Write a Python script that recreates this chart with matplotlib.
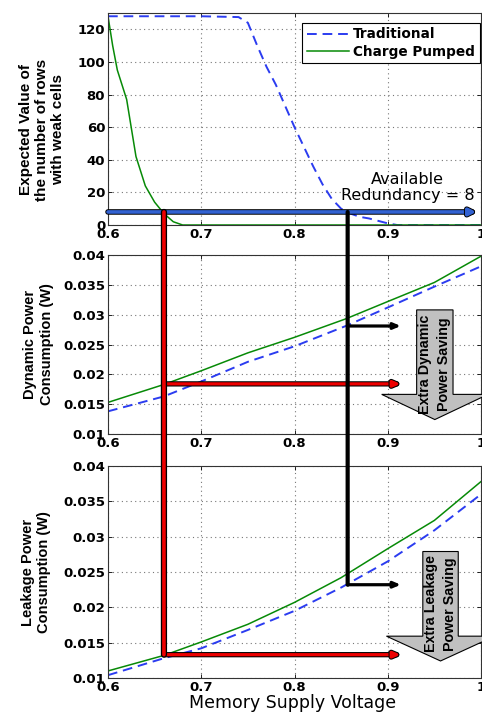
import numpy as np
import matplotlib
matplotlib.use('Agg')
import matplotlib.pyplot as plt
import matplotlib.patheffects as pe
from matplotlib.patches import ConnectionPatch, Polygon
from matplotlib.ticker import FuncFormatter

plt.rcParams['font.family'] = ['DejaVu Sans']

# ---- data ----
v_rows_trad = [0.60, 0.70, 0.74, 0.75, 0.76, 0.77, 0.78, 0.79, 0.80, 0.81, 0.82,
               0.83, 0.84, 0.85, 0.86, 0.87, 0.88, 0.89, 0.90, 0.91, 1.00]
rows_trad = [128, 128, 127.5, 124, 110, 97, 86, 73, 60, 48, 36,
             25, 16, 10, 7, 5, 4, 2.5, 1, 0, 0]
v_rows_cp = [0.60, 0.605, 0.61, 0.62, 0.63, 0.64, 0.65, 0.66, 0.67, 0.68, 1.00]
rows_cp = [128, 110, 95, 77, 42, 24, 14, 7, 2, 0, 0]

v_dyn = [0.60, 0.66, 0.70, 0.75, 0.80, 0.855, 0.90, 0.95, 1.00]
dyn_trad = [0.0138, 0.0163, 0.0188, 0.0221, 0.0247, 0.0281, 0.0312, 0.0347, 0.0381]
dyn_cp = [0.0153, 0.0183, 0.0206, 0.0236, 0.0262, 0.0293, 0.0322, 0.0354, 0.0398]

v_leak = [0.60, 0.66, 0.70, 0.75, 0.80, 0.85, 0.90, 0.95, 1.00]
leak_trad = [0.0104, 0.0128, 0.0142, 0.0168, 0.0195, 0.0228, 0.0265, 0.0309, 0.0360]
leak_cp = [0.0110, 0.0132, 0.0151, 0.0176, 0.0207, 0.0242, 0.0283, 0.0323, 0.0378]

redundancy = 8
v_cp, v_trad = 0.66, 0.857          # voltages meeting the redundancy
dyn_at_cp, dyn_at_trad = 0.0184, 0.0281
leak_at_cp, leak_at_trad = 0.0133, 0.0232
v_arrow_end = 0.914

xticks = [0.6, 0.7, 0.8, 0.9, 1.0]

c_trad = '#2b3cf0'
c_cp = '#078a07'
narrow = ['Liberation Sans Narrow', 'Liberation Sans']

W, H = 482, 712
fig = plt.figure(figsize=(W / 100, H / 100), dpi=100)

def px_axes(top, bottom, left=108, right=481):
    return fig.add_axes([left / W, 1 - bottom / H, (right - left) / W, (bottom - top) / H])

ax1 = px_axes(13, 225)
ax2 = px_axes(255, 434)
ax3 = px_axes(466, 678)

fmt = FuncFormatter(lambda v, p: '%g' % v)

# top panel
ax1.plot(v_rows_trad, rows_trad, color=c_trad, ls=(0, (5, 3)), lw=1.4, label='Traditional')
ax1.plot(v_rows_cp, rows_cp, color=c_cp, lw=1.1, label='Charge Pumped')
ax1.set_ylim(0, 130)
ax1.set_yticks(np.arange(0, 121, 20))
leg = ax1.legend(loc='upper right', bbox_to_anchor=(0.997, 0.955), fancybox=False,
                 edgecolor='k', framealpha=1, handlelength=3.1, borderpad=0.35,
                 labelspacing=0.25, handletextpad=0.3, borderaxespad=0,
                 prop={'weight': 'bold', 'size': 9.8})
leg.get_frame().set_linewidth(0.8)
ax1.set_ylabel('Expected Value of\nthe number of rows\nwith weak cells',
               fontsize=11, fontweight='bold', va='center', linespacing=1.2,
               family=narrow)
ax1.yaxis.set_label_coords(-0.177, 0.45)

ax1.annotate('', xy=(0.995, redundancy), xytext=(0.6, redundancy),
             arrowprops=dict(arrowstyle='-|>,head_length=0.4,head_width=0.2',
                             color='#3262d2', lw=2.6, shrinkA=0, shrinkB=0,
                             path_effects=[pe.Stroke(linewidth=4, foreground='k'), pe.Normal()]),
             zorder=8)
ax1.text(0.921, 23, 'Available\nRedundancy = 8', ha='center', va='center',
         fontsize=11.5, linespacing=1.1, zorder=9)

# middle panel
ax2.plot(v_dyn, dyn_trad, color=c_trad, ls=(0, (5, 3)), lw=1.4)
ax2.plot(v_dyn, dyn_cp, color=c_cp, lw=1.1)
ax2.set_ylim(0.01, 0.04)
ax2.set_yticks(np.arange(0.01, 0.0401, 0.005))
ax2.set_ylabel('Dynamic Power\nConsumption (W)', fontsize=10.5, fontweight='bold',
               va='center', linespacing=1.25, family=narrow)
ax2.yaxis.set_label_coords(-0.186, 0.5)

# bottom panel
ax3.plot(v_leak, leak_trad, color=c_trad, ls=(0, (5, 3)), lw=1.4)
ax3.plot(v_leak, leak_cp, color=c_cp, lw=1.1)
ax3.set_ylim(0.01, 0.04)
ax3.set_yticks(np.arange(0.01, 0.0401, 0.005))
ax3.set_ylabel('Leakage Power\nConsumption (W)', fontsize=10.5, fontweight='bold',
               va='center', linespacing=1.25, family=narrow)
ax3.yaxis.set_label_coords(-0.193, 0.5)

for ax in (ax1, ax2, ax3):
    ax.set_xlim(0.6, 1.0)
    ax.set_xticks(xticks)
    ax.xaxis.set_major_formatter(fmt)
    ax.yaxis.set_major_formatter(fmt)
    ax.grid(True, color='#777777', linestyle=(0, (1, 3)), linewidth=0.8)
    ax.tick_params(direction='in', top=True, right=True, length=3, width=0.6,
                   labelsize=9.5, pad=2)
    for t in ax.get_xticklabels() + ax.get_yticklabels():
        t.set_fontweight('bold')
    for s in ax.spines.values():
        s.set_color('#333333')
        s.set_linewidth(0.8)

fig.text(293 / W, 1 - 703 / H, 'Memory Supply Voltage', ha='center', va='center', fontsize=12.5)

# long vertical guides running through the three panels
red_fx = [pe.Stroke(linewidth=4.5, foreground='k'), pe.Normal()]
con = ConnectionPatch(xyA=(v_cp, redundancy), coordsA=ax1.transData,
                      xyB=(v_cp, leak_at_cp), coordsB=ax3.transData,
                      color='#ee0000', lw=2.6, zorder=10)
con.set_path_effects(red_fx)
fig.add_artist(con)
con = ConnectionPatch(xyA=(v_trad, redundancy), coordsA=ax1.transData,
                      xyB=(v_trad, leak_at_trad), coordsB=ax3.transData,
                      color='k', lw=3, zorder=10)
fig.add_artist(con)

def h_arrow(ax, x0, y, color, fx):
    ax.annotate('', xy=(v_arrow_end, y), xytext=(x0, y),
                arrowprops=dict(arrowstyle='-|>,head_length=0.4,head_width=0.17',
                                color=color, lw=2.3, shrinkA=0, shrinkB=0,
                                path_effects=fx),
                zorder=9)

red_fx_thin = [pe.Stroke(linewidth=3.8, foreground='k'), pe.Normal()]
h_arrow(ax2, v_cp, dyn_at_cp, '#ee0000', red_fx_thin)
h_arrow(ax3, v_cp, leak_at_cp, '#ee0000', red_fx_thin)
h_arrow(ax2, v_trad, dyn_at_trad, 'k', None)
h_arrow(ax3, v_trad, leak_at_trad, 'k', None)

# grey block arrows
def block_arrow(ax, xc, half_shaft, half_head, top, neck, tip, label, ty):
    pts = [(xc - half_shaft, top), (xc + half_shaft, top), (xc + half_shaft, neck),
           (xc + half_head, neck), (xc, tip), (xc - half_head, neck),
           (xc - half_shaft, neck)]
    ax.add_patch(Polygon(pts, closed=True, facecolor='#c0c0c0', edgecolor='k',
                         lw=0.8, clip_on=False, zorder=11))
    ax.text(xc, ty, label, rotation=90, ha='center', va='center', fontsize=10.3,
            fontweight='bold', linespacing=1.45, zorder=12, family=narrow)

block_arrow(ax2, 0.9505, 0.0195, 0.057, 0.0308, 0.01664, 0.01242,
            'Extra Dynamic\nPower Saving', 0.0217)
block_arrow(ax3, 0.9566, 0.019, 0.058, 0.0279, 0.01592, 0.01241,
            'Extra Leakage\nPower Saving', 0.0205)

fig.savefig('out.png', dpi=100)
